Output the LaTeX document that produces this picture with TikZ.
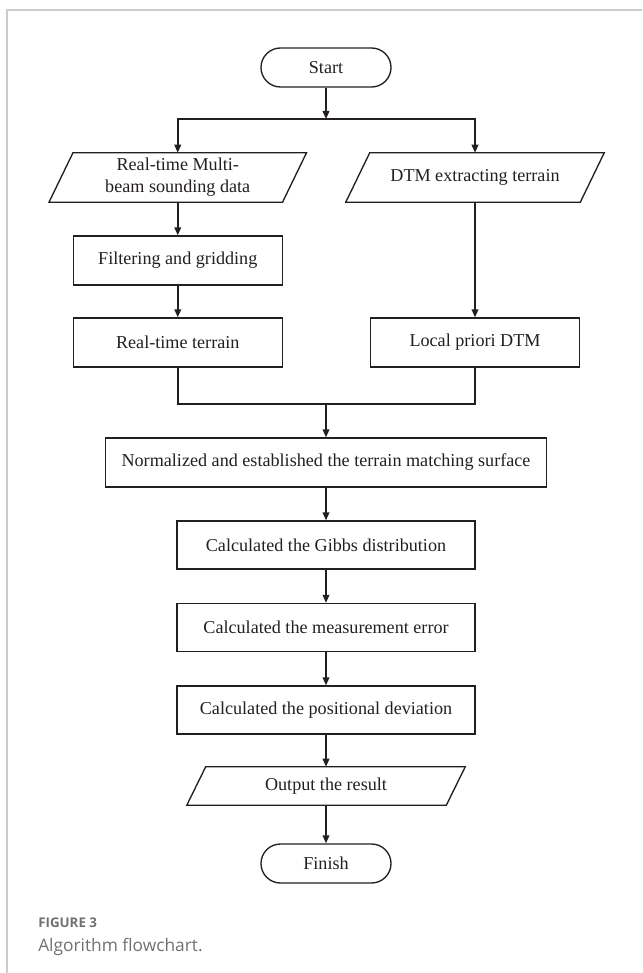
\documentclass[tikz,border=0pt]{standalone}
\usepackage{fontspec}
\setmainfont{Liberation Serif}
\newfontfamily\capfont{Open Sans}
\usetikzlibrary{arrows.meta}
\definecolor{lc}{HTML}{231F20}
\definecolor{framec}{HTML}{CCCCCC}
\definecolor{capc}{HTML}{707070}
\newcommand\drawpara[2]{\draw[shapeline] ([xshift=#2]#1.north west) -- ([xshift=#2]#1.north east) -- ([xshift=-#2]#1.south east) -- ([xshift=-#2]#1.south west) -- cycle;}
\begin{document}
\begin{tikzpicture}[x=0.75pt,y=-0.75pt,
  txt/.style={font=\fontsize{13.6}{16.5}\selectfont, text=lc, align=center, inner sep=0pt},
  shapeline/.style={draw=lc, line width=1pt},
  box/.style={txt, shapeline, minimum height=36.75pt},
  smallbox/.style={box, minimum width=156.75pt},
  midbox/.style={box, minimum width=223.5pt, minimum height=36pt},
  pill/.style={txt, shapeline, minimum width=97.5pt, minimum height=29.25pt, rounded corners=14.6pt},
  parabody/.style={txt, minimum height=36.75pt},
  arr/.style={draw=lc, line width=1.2pt, -{Triangle[length=6pt,width=5pt]}},
  ln/.style={draw=lc, line width=1.2pt}]
\useasboundingbox (0,0) rectangle (642,973);
\draw[framec, line width=0.8pt] (7,973) -- (7,10) -- (642,10);

\node[pill] (start) at (326,67.5) {Start};
\coordinate (split) at (326,119);
\node[parabody, minimum width=174.75pt] (mb) at (177.75,177.5) {Real-time Multi-\\beam sounding data};
\drawpara{mb}{9pt}
\node[parabody, minimum width=175.5pt] (dtm) at (475,177.5) {DTM extracting terrain};
\drawpara{dtm}{9pt}
\node[smallbox] (filt) at (177.75,260.5) {Filtering and gridding};
\node[smallbox] (rt) at (177.75,342.5) {Real-time terrain};
\node[smallbox] (loc) at (475,342.5) {Local priori DTM};
\coordinate (merge) at (326,404);
\node[box, minimum width=330.75pt] (norm) at (326,462.5) {Normalized and established the terrain matching surface};
\node[midbox] (gibbs) at (326,545) {Calculated the Gibbs distribution};
\node[midbox] (meas) at (326,627.5) {Calculated the measurement error};
\node[midbox] (pos) at (326,710) {Calculated the positional deviation};
\node[parabody, minimum width=194.25pt, minimum height=28.5pt] (out) at (326,786) {Output the result};
\drawpara{out}{7.1pt}
\node[pill] (fin) at (326,863.5) {Finish};

\draw[arr] (start) -- (split);
\draw[arr] (split) -| (mb.north);
\draw[arr] (split) -| (dtm.north);
\draw[arr] (mb) -- (filt);
\draw[arr] (filt) -- (rt);
\draw[arr] (dtm) -- (loc);
\draw[ln] (rt.south) |- (merge);
\draw[ln] (loc.south) |- (merge);
\draw[arr] (merge) -- (norm);
\draw[arr] (norm) -- (gibbs);
\draw[arr] (gibbs) -- (meas);
\draw[arr] (meas) -- (pos);
\draw[arr] (pos) -- (out);
\draw[arr] (out) -- (fin);

\node[anchor=base west, inner sep=0pt, font=\capfont\bfseries\fontsize{10}{12}\selectfont, text=capc] (figlabel) at (38,927) {FIGURE 3};
\node[anchor=base west, inner sep=0pt, font=\capfont\fontsize{13}{15}\selectfont, text=capc] (figcap) at (38,951) {Algorithm flowchart.};
\end{tikzpicture}
\end{document}
